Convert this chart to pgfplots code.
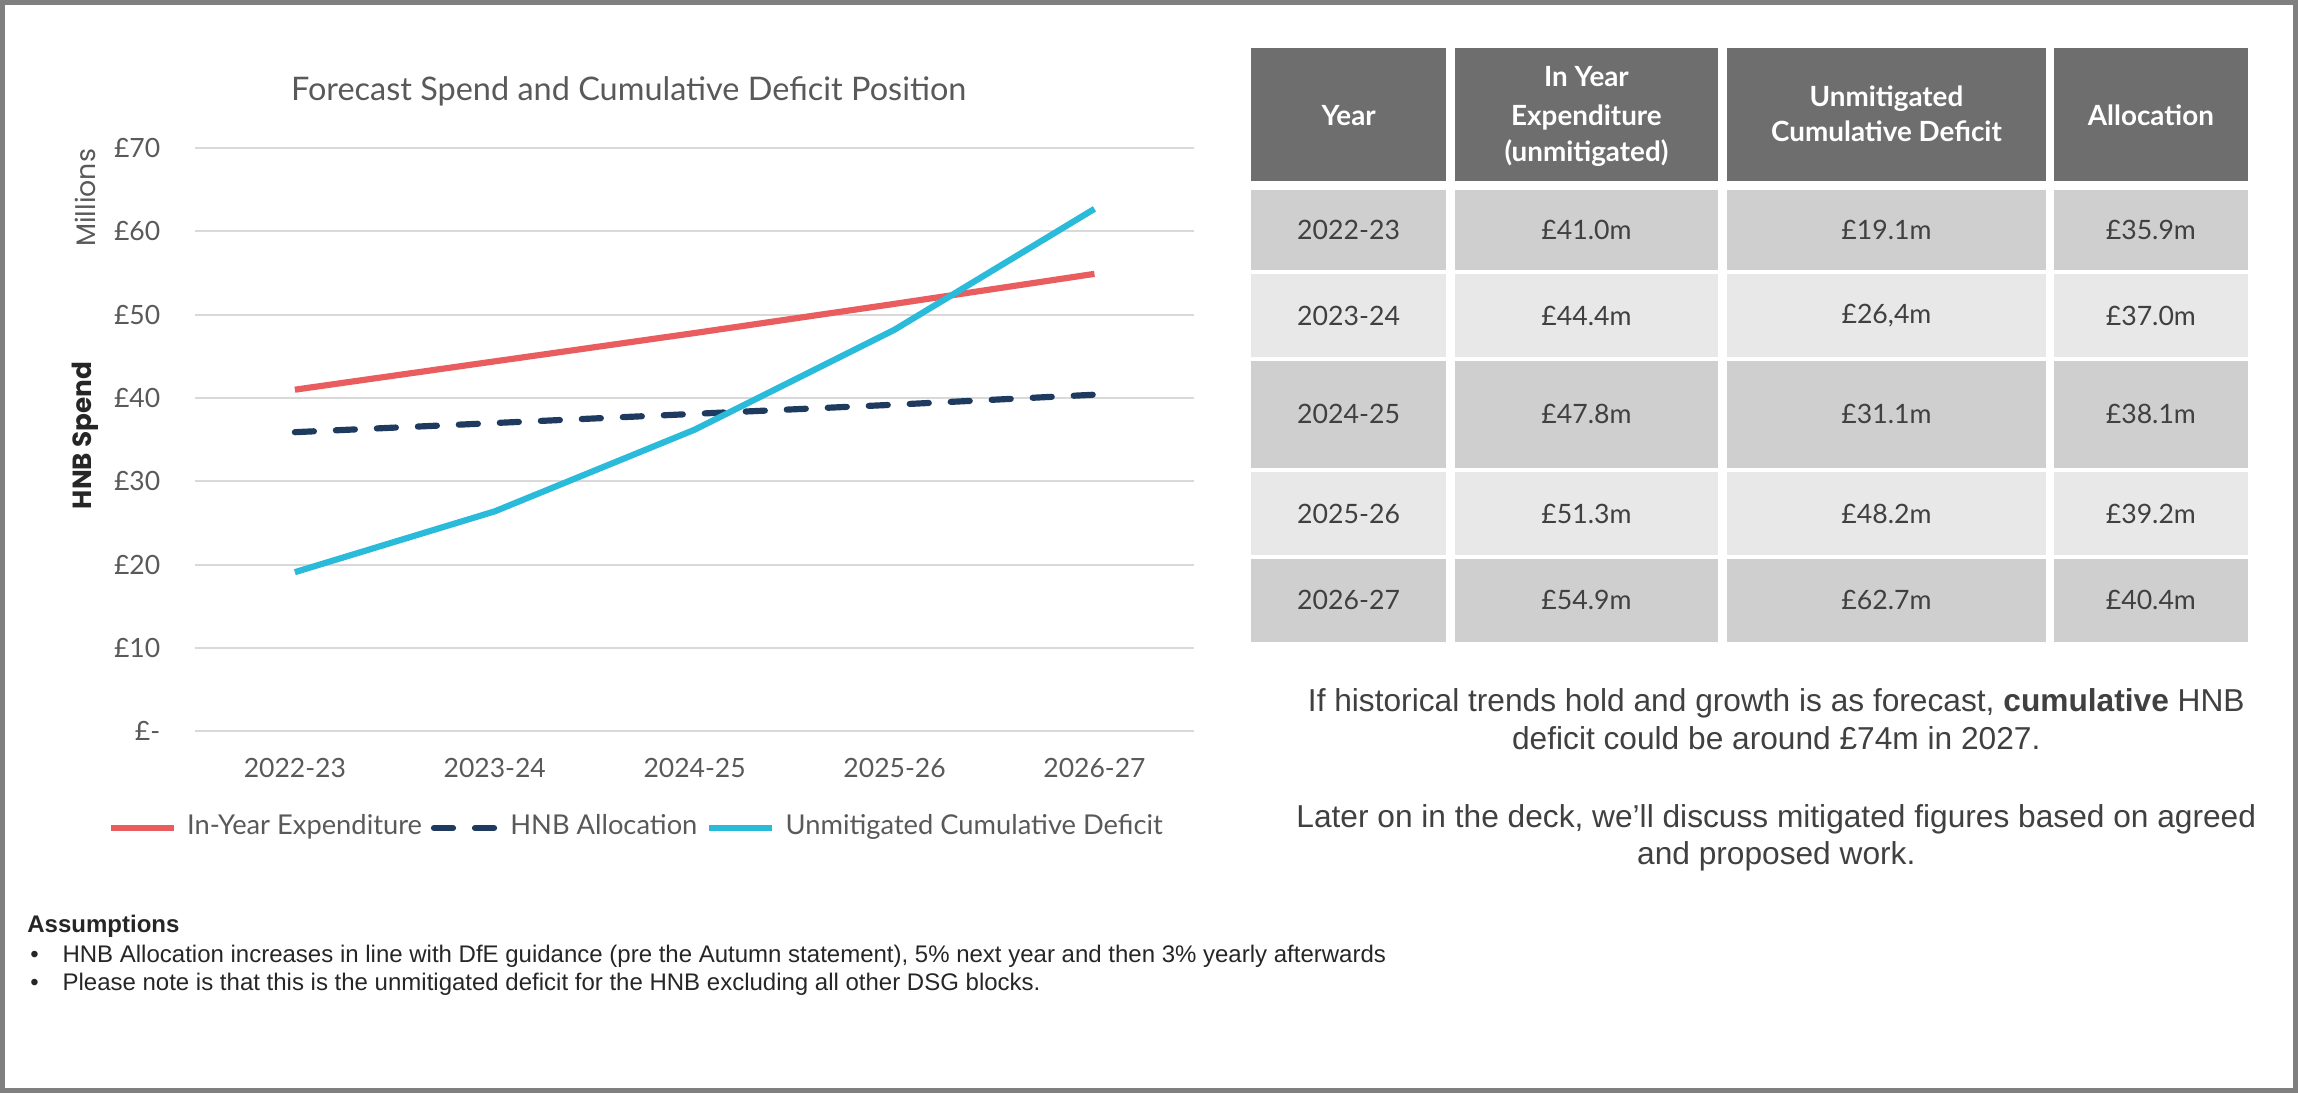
\documentclass[border=0pt]{standalone}
\usepackage{fontspec}
\setmainfont{Lato}
\newfontfamily\arialfont{Liberation Sans}
\newfontfamily\popfont{Poppins}
\usepackage{pgfplots}
\pgfplotsset{compat=1.18}
\newcommand\fs[1]{\fontsize{#1}{#1}\selectfont}
\definecolor{ExpRed}{HTML}{E95D5F}
\definecolor{AllocNavy}{HTML}{1F3A5F}
\definecolor{DefCyan}{HTML}{2ABBDB}
\definecolor{GridGray}{HTML}{D9D9D9}
\definecolor{LabelGray}{HTML}{595959}
\definecolor{DarkLabel}{HTML}{262626}
\definecolor{HeadGray}{HTML}{6E6E6E}
\definecolor{RowDark}{HTML}{CFCFCF}
\definecolor{RowLight}{HTML}{E8E8E8}
\definecolor{CellText}{HTML}{404040}
\definecolor{FrameGray}{HTML}{7F7F7F}

\begin{document}
\begin{tikzpicture}[x=0.1mm,y=0.1mm]
\path (0,0) rectangle (1568,746);
\draw[FrameGray, line width=0.35mm] (2,2) rectangle (1566,744);

% chart
\begin{axis}[
  at={(13.3mm,24.7mm)}, anchor=south west,
  scale only axis, width=68.2mm, height=39.8mm,
  clip=false,
  xmin=-0.5, xmax=4.5, ymin=0, ymax=70,
  xtick={0,...,4},
  xticklabels={2022-23,2023-24,2024-25,2025-26,2026-27},
  ytick={0,10,...,70},
  yticklabels={£-,£10,£20,£30,£40,£50,£60,£70},
  axis line style={draw=none},
  major tick length=0pt,
  ymajorgrids, grid style={GridGray, line width=0.15mm},
  tick label style={font=\fs{5.15}, text=LabelGray, inner sep=0pt},
  xticklabel style={anchor=north, yshift=-1.8mm},
  yticklabel style={anchor=east, xshift=-2.3mm},
  title={Forecast Spend and Cumulative Deficit Position},
  title style={at={(axis description cs:0.434,1.045)}, anchor=center, yshift=0pt, font=\fs{6.3}, text=LabelGray, inner sep=0pt},
  ylabel={HNB Spend},
  ylabel style={at={(axis description cs:-0.110,0.5075)}, anchor=center, font=\popfont\bfseries\fs{5.1}, text=DarkLabel, inner sep=0pt},
  legend style={at={(axis description cs:0.4406,-0.1658)}, anchor=center, draw=none, fill=none,
    legend columns=3, font=\fs{5.3}, text=LabelGray, inner sep=0pt,
    /tikz/every odd column/.append style={column sep=0.7mm},
    /tikz/every even column/.append style={column sep=0.6mm}, nodes={inner sep=0pt}},
  legend image code/.code={\draw[#1] (0mm,0mm) -- (4.3mm,0mm);},
]
\addplot[ExpRed, line width=1.2pt, line join=round] coordinates {(0,41.0) (1,44.4) (2,47.8) (3,51.3) (4,54.9)};
\addplot[AllocNavy, line width=1.2pt, dash pattern=on 1.3mm off 1.5mm, line cap=round] coordinates {(0,35.9) (1,37.0) (2,38.1) (3,39.2) (4,40.4)};
\addplot[DefCyan, line width=1.2pt, line join=round] coordinates {(0,19.1) (1,26.4) (2,36.2) (3,48.2) (4,62.7)};
\legend{In-Year Expenditure, HNB Allocation, Unmitigated Cumulative Deficit}
\node[rotate=90, font=\popfont\fs{5.2}, text=LabelGray, inner sep=0pt] at (axis description cs:-0.110,0.9146) {Millions};
\end{axis}

% table
\foreach \xa/\xb in {853.9/986.5, 992.5/1172.5, 1178.5/1395.8, 1401.3/1533.9} {
  \fill[HeadGray] (\xa,622.2) rectangle (\xb,713.4);
  \fill[RowDark]  (\xa,561.5) rectangle (\xb,616.3);
  \fill[RowLight] (\xa,502.1) rectangle (\xb,559.0);
  \fill[RowDark]  (\xa,426.6) rectangle (\xb,500.0);
  \fill[RowLight] (\xa,367.2) rectangle (\xb,424.1);
  \fill[RowDark]  (\xa,308.2) rectangle (\xb,364.8);
}
\begin{scope}[every node/.style={anchor=base, inner sep=0pt, text=white, font=\bfseries\fs{5.4}}]
\node at (920.2,660.6) {Year};
\node at (1082.5,687.0) {In Year};
\node at (1082.5,660.5) {Expenditure};
\node at (1082.5,635.6) {(unmitigated)};
\node at (1287.2,673.5) {Unmitigated};
\node at (1287.2,649.2) {Cumulative Deficit};
\node at (1467.6,660.6) {Allocation};
\end{scope}
\begin{scope}[every node/.style={anchor=center, inner sep=0pt, text=CellText, font=\fs{5.18}}]
\node at (920.2,588.9) {2022-23};  \node at (1082.5,588.9) {£41.0m}; \node at (1287.2,588.9) {£19.1m}; \node at (1467.6,588.9) {£35.9m};
\node at (920.2,530.5) {2023-24};  \node at (1082.5,530.5) {£44.4m}; \node at (1287.2,530.5) {£26,4m}; \node at (1467.6,530.5) {£37.0m};
\node at (920.2,463.3) {2024-25};  \node at (1082.5,463.3) {£47.8m}; \node at (1287.2,463.3) {£31.1m}; \node at (1467.6,463.3) {£38.1m};
\node at (920.2,395.6) {2025-26};  \node at (1082.5,395.6) {£51.3m}; \node at (1287.2,395.6) {£48.2m}; \node at (1467.6,395.6) {£39.2m};
\node at (920.2,336.5) {2026-27};  \node at (1082.5,336.5) {£54.9m}; \node at (1287.2,336.5) {£62.7m}; \node at (1467.6,336.5) {£40.4m};
\end{scope}

% commentary
\begin{scope}[every node/.style={anchor=base, inner sep=0pt, text=CellText, font=\arialfont\fs{6.15}}]
\node at (1212,260.6) {If historical trends hold and growth is as forecast, \textbf{cumulative} HNB};
\node at (1212,234.3) {deficit could be around £74m in 2027.};
\node at (1212,181.1) {Later on in the deck, we’ll discuss mitigated figures based on agreed};
\node at (1212,155.9) {and proposed work.};
\end{scope}

% assumptions
\begin{scope}[every node/.style={anchor=base west, inner sep=0pt, text=DarkLabel, font=\arialfont\fs{4.66}}]
\node[font=\arialfont\bfseries\fs{4.66}] at (18,109.6) {Assumptions};
\node at (20,89.4) {•};
\node at (42,89.4) {HNB Allocation increases in line with DfE guidance (pre the Autumn statement), 5\% next year and then 3\% yearly afterwards};
\node at (20,70.0) {•};
\node at (42,70.0) {Please note is that this is the unmitigated deficit for the HNB excluding all other DSG blocks.};
\end{scope}
\end{tikzpicture}
\end{document}
